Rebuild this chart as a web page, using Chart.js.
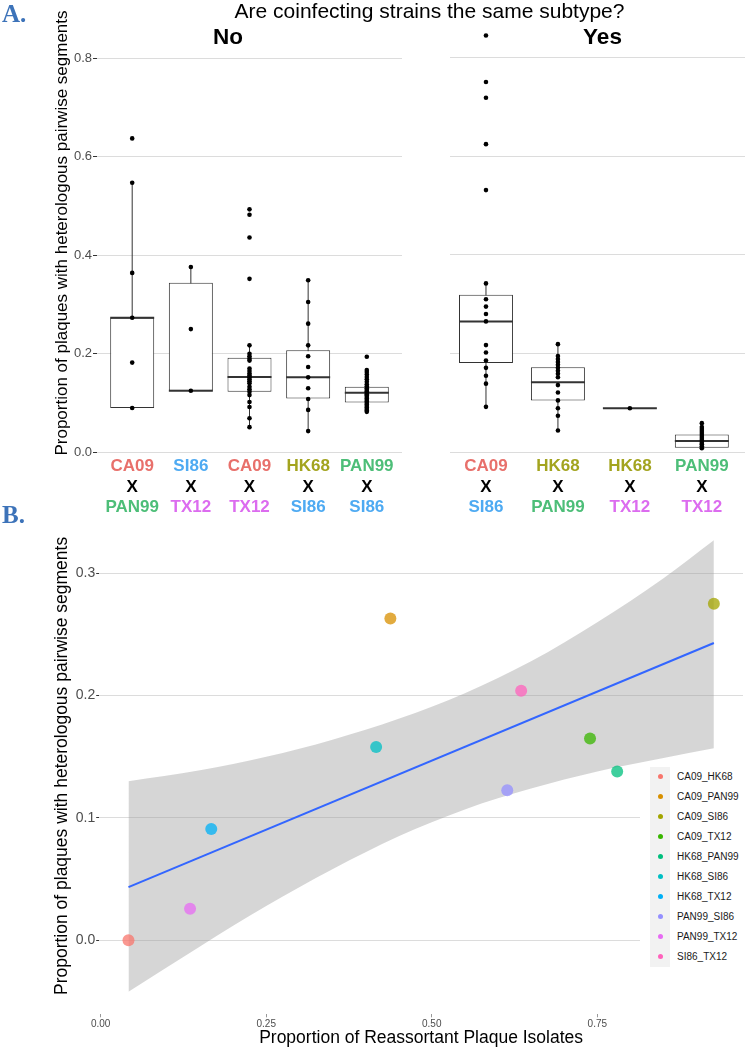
<!DOCTYPE html>
<html>
<head>
<meta charset="utf-8">
<script src="https://cdn.jsdelivr.net/npm/chart.js@4.4.1/dist/chart.umd.min.js"></script>
<style>
  html, body { margin: 0; padding: 0; background: #fff; overflow: hidden; }
  body { width: 749px; height: 1050px; position: relative; font-family: 'Liberation Sans', Arial, sans-serif; }
  .box { position: absolute; }
  .ctr { position: absolute; transform: translate(-50%, -50%); line-height: 1; white-space: nowrap; }
  .tag { position: absolute; font: bold 25px 'Liberation Serif', 'DejaVu Serif', serif; color: #3D73B9; line-height: 25px; }
  #legend { position: absolute; left: 640px; top: 763px; width: 109px; height: 212px; background: #fff; }
  #legend .keys { position: absolute; left: 10px; top: 3.7px; width: 20px; height: 200px; background: #f2f2f2; }
  #legend .row { position: absolute; left: 0; height: 20px; width: 109px; }
  #legend .dot { position: absolute; left: 17.5px; top: 7.5px; width: 5px; height: 5px; border-radius: 50%; }
  #legend .lab { position: absolute; left: 37px; top: 0; line-height: 20px; font-size: 10px; color: #1a1a1a; }
</style>
</head>
<body>
<div class="box" style="left:0;top:0;width:420px;height:520px"><canvas id="noChart"></canvas></div>
<div class="box" style="left:430px;top:0;width:319px;height:520px"><canvas id="yesChart"></canvas></div>
<div class="box" style="left:0;top:500px;width:749px;height:550px"><canvas id="fitChart"></canvas></div>
<div id="legend"><div class="keys"></div></div>

<div class="tag" style="left:2px;top:1px">A.</div>
<div class="tag" style="left:2px;top:502px">B.</div>
<div class="ctr" style="left:429.5px;top:9.5px;font-size:21px">Are coinfecting strains the same subtype?</div>
<div class="ctr" style="left:228px;top:37px;font-size:22.5px;font-weight:bold">No</div>
<div class="ctr" style="left:602.5px;top:37px;font-size:22.5px;font-weight:bold">Yes</div>

<script>
Chart.defaults.font.family = "'Liberation Sans', Arial, sans-serif";

// ---- panel A data ----
const strainColors = {
  CA09: '#E8706B', HK68: '#A3A41F', PAN99: '#4DBE78', SI86: '#4EAAF2', TX12: '#DC6CEF'
};
const yTicksA = [0, 0.2, 0.4, 0.6, 0.8];

// "No" panel: first strain / second strain
const noTop = ['CA09', 'SI86', 'CA09', 'HK68', 'PAN99'];
const noBottom = ['PAN99', 'TX12', 'TX12', 'SI86', 'SI86'];
const noLow = [0.090, 0.125, 0.051, 0.043, 0.082];
const noQ1 = [0.090, 0.125, 0.123, 0.109, 0.101];
const noMed = [0.273, 0.125, 0.153, 0.152, 0.121];
const noQ3 = [0.273, 0.344, 0.192, 0.207, 0.133];
const noHigh = [0.547, 0.376, 0.217, 0.349, 0.167];
const noCa09Pan99 = [0.637, 0.547, 0.364, 0.273, 0.182, 0.090];
const noSi86Tx12 = [0.376, 0.250, 0.125];
const noCa09Tx12 = [0.493, 0.482, 0.436, 0.352, 0.217, 0.200, 0.195, 0.190, 0.186, 0.170, 0.165, 0.160,
  0.156, 0.152, 0.148, 0.144, 0.140, 0.133, 0.128, 0.123, 0.116, 0.102, 0.092, 0.069, 0.051];
const noHk68Si86 = [0.349, 0.305, 0.261, 0.217, 0.195, 0.173, 0.152, 0.130, 0.108, 0.086, 0.043];
const noPan99Si86 = [0.194, 0.167, 0.163, 0.158, 0.153, 0.148, 0.143, 0.138, 0.134, 0.130, 0.127, 0.124,
  0.121, 0.118, 0.115, 0.112, 0.109, 0.106, 0.103, 0.100, 0.097, 0.094, 0.091, 0.088, 0.085, 0.082];

// "Yes" panel
const yesTop = ['CA09', 'HK68', 'HK68', 'PAN99'];
const yesBottom = ['SI86', 'PAN99', 'TX12', 'TX12'];
const yesLow = [0.092, 0.044, 0.089, 0.008];
const yesQ1 = [0.181, 0.105, 0.089, 0.009];
const yesMed = [0.265, 0.142, 0.089, 0.023];
const yesQ3 = [0.319, 0.172, 0.089, 0.036];
const yesHigh = [0.342, 0.219, 0.089, 0.051];
const yesCa09Si86 = [0.844, 0.750, 0.718, 0.624, 0.531, 0.342, 0.310, 0.295, 0.280, 0.265, 0.217, 0.202,
  0.186, 0.171, 0.155, 0.139, 0.092];
const yesHk68Pan99 = [0.219, 0.195, 0.189, 0.183, 0.177, 0.171, 0.165, 0.159, 0.152, 0.136, 0.121, 0.105,
  0.089, 0.074, 0.044];
const yesHk68Tx12 = [0.089];
const yesPan99Tx12 = [0.059, 0.051, 0.047, 0.043, 0.039, 0.035, 0.031, 0.027, 0.023, 0.019, 0.016, 0.012, 0.008];

// ---- panel B data ----
const pairs = ['CA09_HK68', 'CA09_PAN99', 'CA09_SI86', 'CA09_TX12', 'HK68_PAN99',
  'HK68_SI86', 'HK68_TX12', 'PAN99_SI86', 'PAN99_TX12', 'SI86_TX12'];
const pairColors = ['#F8766D', '#D89000', '#A3A500', '#39B600', '#00BF7D',
  '#00BFC4', '#00B0F6', '#9590FF', '#E76BF3', '#FF62BC'];
const reassortant = [0.042, 0.4375, 0.926, 0.739, 0.780, 0.416, 0.167, 0.614, 0.135, 0.635];
const heterologous = [0.000, 0.263, 0.275, 0.165, 0.138, 0.158, 0.091, 0.1226, 0.0258, 0.204];
const fitX = [0.042, 0.926];
const fitY = [0.0435, 0.243];
const bandX = [0.042, 0.15, 0.25, 0.35, 0.45, 0.55, 0.65, 0.75, 0.85, 0.926];
const bandUpper = [0.130, 0.139, 0.150, 0.164, 0.181, 0.202, 0.228, 0.260, 0.296, 0.327];
const bandLower = [-0.042, -0.005, 0.028, 0.058, 0.085, 0.107, 0.124, 0.138, 0.149, 0.157];
const xTicksB = [0, 0.25, 0.5, 0.75];
const yTicksB = [0, 0.1, 0.2, 0.3];

const yTitle = 'Proportion of plaques with heterologous pairwise segments';
const BOX_W = 0.75;

function boxDatasets(low, q1, med, q3, high, groups) {
  const whisk = [], meds = [], dots = [];
  low.forEach((v, i) => {
    whisk.push({ x: i, y: v }, { x: i, y: high[i] }, { x: i, y: null });
    meds.push({ x: i - BOX_W / 2, y: med[i] }, { x: i + BOX_W / 2, y: med[i] }, { x: i, y: null });
    groups[i].forEach(p => dots.push({ x: i, y: p }));
  });
  return [
    { type: 'line', data: whisk, borderColor: '#333', borderWidth: 1, pointRadius: 0, spanGaps: false, order: 4 },
    { type: 'bar', data: q1.map((v, i) => ({ x: i, y: [v, q3[i]] })), backgroundColor: '#fff',
      borderColor: '#333', borderWidth: 1, borderSkipped: false, categoryPercentage: 1, barPercentage: BOX_W, order: 3 },
    { type: 'line', data: meds, borderColor: '#333', borderWidth: 2, pointRadius: 0, spanGaps: false, order: 2 },
    { type: 'scatter', data: dots, backgroundColor: '#000', borderWidth: 0, pointRadius: 2.3, order: 1 }
  ];
}

function strainLabels(tops, bottoms) {
  return {
    id: 'strainLabels',
    afterDraw(chart) {
      const { ctx, chartArea, scales: { x } } = chart;
      ctx.save();
      ctx.font = "bold 17px 'Liberation Sans', Arial, sans-serif";
      ctx.textAlign = 'center';
      ctx.textBaseline = 'middle';
      tops.forEach((t, i) => {
        const px = x.getPixelForValue(i);
        ctx.fillStyle = strainColors[t];
        ctx.fillText(t, px, chartArea.bottom + 9);
        ctx.fillStyle = '#000';
        ctx.fillText('X', px, chartArea.bottom + 30);
        ctx.fillStyle = strainColors[bottoms[i]];
        ctx.fillText(bottoms[i], px, chartArea.bottom + 50);
      });
      ctx.restore();
    }
  };
}

function boxOptions(n, xmin, showY, pad) {
  return {
    responsive: true,
    maintainAspectRatio: false,
    animation: false,
    layout: { padding: pad },
    plugins: { legend: { display: false }, tooltip: { enabled: false } },
    scales: {
      x: {
        type: 'linear', display: false, offset: false, min: xmin, max: n - 1 + 0.6,
        grid: { offset: false },
        afterBuildTicks: s => { s.ticks = Array.from({ length: n }, (_, i) => ({ value: i })); }
      },
      y: {
        min: -0.01, max: 0.9,
        afterBuildTicks: s => { s.ticks = yTicksA.map(v => ({ value: v })); },
        afterFit: s => { s.width = showY ? 48.7 : 0; },
        border: { display: false },
        grid: { color: '#dcdcdc', tickColor: '#333', tickLength: 4, drawTicks: showY },
        ticks: { display: showY, padding: 1, color: '#4d4d4d', font: { size: 13 }, callback: v => v.toFixed(1) },
        title: { display: showY, text: yTitle, color: '#000', font: { size: 17 } }
      }
    }
  };
}

new Chart(document.getElementById('noChart'), {
  type: 'bar',
  data: { datasets: boxDatasets(noLow, noQ1, noMed, noQ3, noHigh,
    [noCa09Pan99, noSi86Tx12, noCa09Tx12, noHk68Si86, noPan99Si86]) },
  options: boxOptions(noTop.length, -0.6, true, { left: 48.3, right: 18, top: 7.9, bottom: 62.8 }),
  plugins: [strainLabels(noTop, noBottom)]
});

new Chart(document.getElementById('yesChart'), {
  type: 'bar',
  data: { datasets: boxDatasets(yesLow, yesQ1, yesMed, yesQ3, yesHigh,
    [yesCa09Si86, yesHk68Pan99, yesHk68Tx12, yesPan99Tx12]) },
  options: boxOptions(yesTop.length, -0.5, false, { left: 20, right: 2, top: 7.9, bottom: 62.8 }),
  plugins: [strainLabels(yesTop, yesBottom)]
});

new Chart(document.getElementById('fitChart'), {
  type: 'scatter',
  data: {
    datasets: [
      { data: bandX.map((x, i) => ({ x, y: bandUpper[i] })), showLine: true, borderColor: 'transparent',
        borderWidth: 0, pointRadius: 0, fill: '+1', backgroundColor: 'rgba(153,153,153,0.4)',
        cubicInterpolationMode: 'monotone', order: 5 },
      { data: bandX.map((x, i) => ({ x, y: bandLower[i] })), showLine: true, borderColor: 'transparent',
        borderWidth: 0, pointRadius: 0, fill: false, cubicInterpolationMode: 'monotone', order: 5 },
      { data: fitX.map((x, i) => ({ x, y: fitY[i] })), showLine: true, borderColor: '#3366FF',
        borderWidth: 2, pointRadius: 0, order: 4 },
      ...pairs.map((p, i) => ({
        label: p, data: [{ x: reassortant[i], y: heterologous[i] }],
        backgroundColor: pairColors[i] + 'C0', borderWidth: 0, pointRadius: 6, order: 1
      }))
    ]
  },
  options: {
    responsive: true,
    maintainAspectRatio: false,
    animation: false,
    layout: { padding: { left: 48, right: 1.6, top: 17.6, bottom: 0 } },
    plugins: { legend: { display: false }, tooltip: { enabled: false } },
    scales: {
      x: {
        min: -0.0022, max: 0.970,
        afterBuildTicks: s => { s.ticks = xTicksB.map(v => ({ value: v })); },
        afterFit: s => { s.height = 35.7; },
        border: { display: false },
        grid: { drawOnChartArea: false, tickColor: '#999', tickLength: 3 },
        ticks: { padding: 1, color: '#4d4d4d', font: { size: 10 }, maxRotation: 0, callback: v => v.toFixed(2) },
        title: { display: true, text: 'Proportion of Reassortant Plaque Isolates', color: '#000',
          font: { size: 17.5 }, padding: { top: 0, bottom: 1 } }
      },
      y: {
        min: -0.0605, max: 0.3455,
        afterBuildTicks: s => { s.ticks = yTicksB.map(v => ({ value: v })); },
        afterFit: s => { s.width = 51.2; },
        border: { display: false },
        grid: { color: '#dcdcdc', tickColor: '#333', tickLength: 3 },
        ticks: { padding: 1, color: '#4d4d4d', font: { size: 14 }, callback: v => v.toFixed(1) },
        title: { display: true, text: yTitle, color: '#000', font: { size: 17.5 } }
      }
    }
  }
});

// legend for panel B
const legendEl = document.getElementById('legend');
pairs.forEach((p, i) => {
  const row = document.createElement('div');
  row.className = 'row';
  row.style.top = (3.7 + i * 20) + 'px';
  const dot = document.createElement('div');
  dot.className = 'dot';
  dot.style.background = pairColors[i];
  const lab = document.createElement('div');
  lab.className = 'lab';
  lab.textContent = p;
  row.append(dot, lab);
  legendEl.appendChild(row);
});
</script>
</body>
</html>
